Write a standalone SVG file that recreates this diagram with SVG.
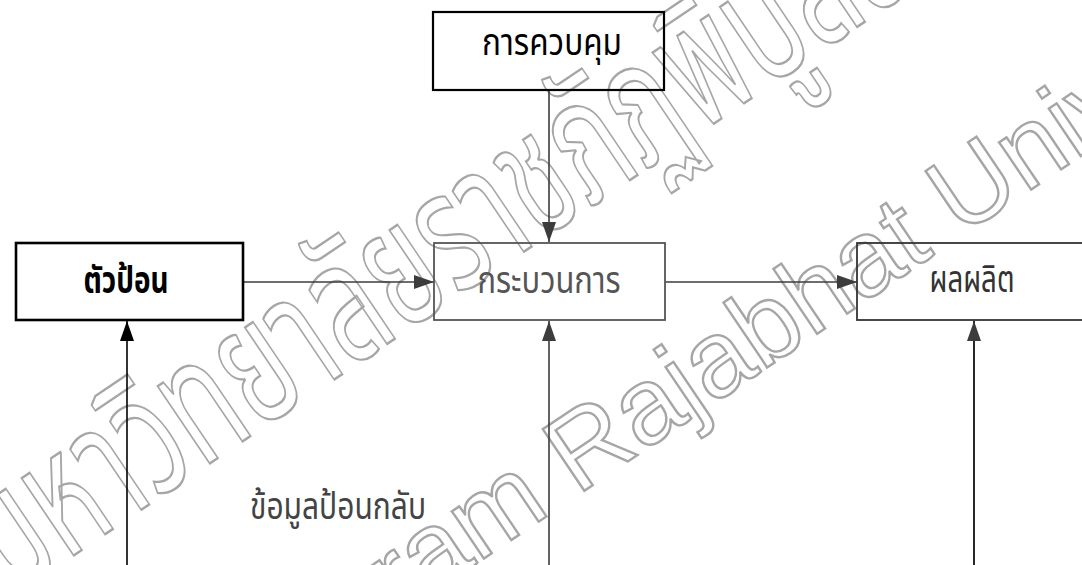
<svg xmlns="http://www.w3.org/2000/svg" width="1082" height="565" viewBox="0 0 1082 565">
<style>
.wm{fill:none;stroke:#a6a6a6;stroke-width:2.4}
.th{font-family:"Noto Sans Thai","Noto Sans","DejaVu Sans",sans-serif;font-size:37px;text-anchor:middle}
.conn{stroke:#3c3c3c;stroke-width:1.6;fill:none}
</style>
<defs>
<marker id="ah" markerUnits="userSpaceOnUse" viewBox="0 0 20 14" markerWidth="20" markerHeight="14" refX="20" refY="7" orient="auto"><path d="M0,0 L20,7 L0,14 z" fill="#3c3c3c"/></marker>
<marker id="ahk" markerUnits="userSpaceOnUse" viewBox="0 0 20 14" markerWidth="20" markerHeight="14" refX="20" refY="7" orient="auto"><path d="M0,0 L20,7 L0,14 z" fill="#000"/></marker>
</defs>
<rect width="1082" height="565" fill="#fff"/>
<g id="watermark">
<text class="wm" transform="translate(9,599) rotate(-34)" font-family="Noto Sans Thai, Noto Sans, sans-serif" font-size="170" textLength="1400" lengthAdjust="spacingAndGlyphs">มหาวิทยาลัยราชภัฏพิบูลสงคราม</text>
<text class="wm" transform="translate(-40,912) rotate(-34)" font-family="Liberation Sans, Arial, sans-serif" font-size="108">Pibulsongkram Rajabhat University</text>
</g>
<g id="connectors">
<line class="conn" x1="549" y1="90" x2="549" y2="242" marker-end="url(#ah)"/>
<line class="conn" x1="243" y1="282" x2="434" y2="282" marker-end="url(#ah)"/>
<line class="conn" x1="665" y1="282" x2="857" y2="282" marker-end="url(#ah)"/>
<line x1="127" y1="565" x2="127" y2="321" stroke="#000" stroke-width="1.6" marker-end="url(#ahk)"/>
<line class="conn" x1="549" y1="565" x2="549" y2="321" marker-end="url(#ah)"/>
<line x1="974" y1="565" x2="974" y2="321" stroke="#111" stroke-width="1.8" marker-end="url(#ah)"/>
</g>
<g id="control">
<rect x="433" y="12" width="231" height="78" fill="none" stroke="#000" stroke-width="2.2"/>
<text class="th" x="552" y="55" fill="#000" textLength="140" lengthAdjust="spacingAndGlyphs">การควบคุม</text>
</g>
<g id="input">
<rect x="16" y="243" width="227" height="77" fill="none" stroke="#000" stroke-width="2.6"/>
<text class="th" x="126" y="293" fill="#000" font-weight="bold" textLength="85" lengthAdjust="spacingAndGlyphs">ตัวป้อน</text>
</g>
<g id="process">
<rect x="434" y="243" width="231" height="77" fill="none" stroke="#555" stroke-width="1.8"/>
<text class="th" x="549" y="293" fill="#555" textLength="143" lengthAdjust="spacingAndGlyphs">กระบวนการ</text>
</g>
<g id="output">
<rect x="857" y="243" width="240" height="77" fill="none" stroke="#333" stroke-width="1.8"/>
<text class="th" x="972" y="292" fill="#333" textLength="85" lengthAdjust="spacingAndGlyphs">ผลผลิต</text>
</g>
<g id="feedback">
<text class="th" x="338" y="519" fill="#444" textLength="176" lengthAdjust="spacingAndGlyphs">ข้อมูลป้อนกลับ</text>
</g>
</svg>
